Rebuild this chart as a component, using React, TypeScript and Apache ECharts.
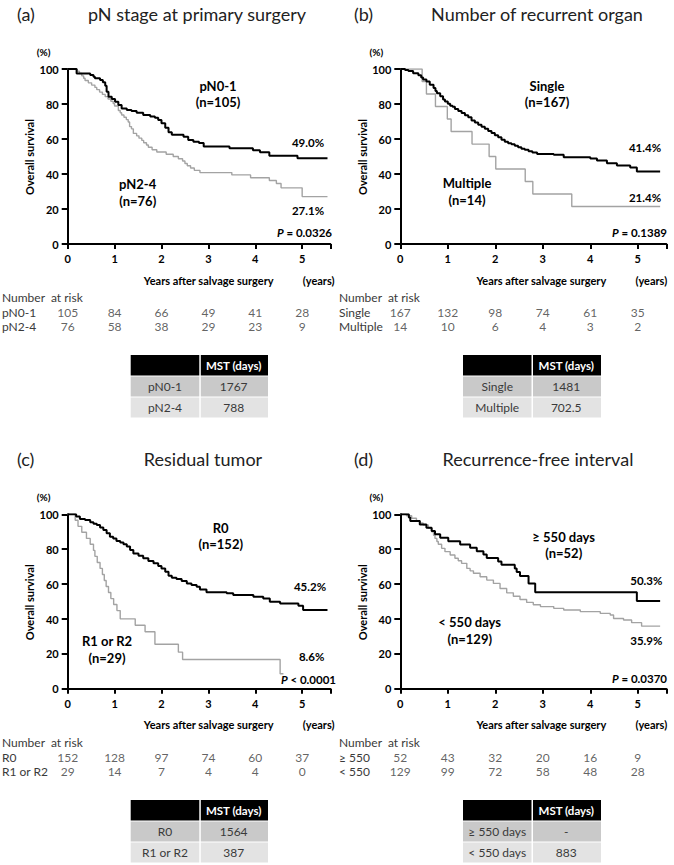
import React, { useEffect, useRef } from 'react';
import * as echarts from 'echarts';

// ---------- DATA ----------
const panelLetters = ['(a)', '(b)', '(c)', '(d)'];
const panelTitles = ['pN stage at primary surgery', 'Number of recurrent organ', 'Residual tumor', 'Recurrence-free interval'];

// (a) pN stage
const aGroups = ['pN0-1', 'pN2-4'];
const aN = ['(n=105)', '(n=76)'];
const aFiveYear = ['49.0%', '27.1%'];
const aP = ['=', '0.0326'];
const aCurve0 = [[0,100],[0.19,97.5],[0.48,96.6],[0.55,95.6],[0.58,94.7],[0.69,93.7],[0.75,92.4],[0.8,90.5],[0.83,87],[0.87,84.2],[0.94,82.9],[1.01,81.3],[1.08,79.4],[1.15,77.5],[1.26,76.6],[1.36,76],[1.47,75],[1.61,73.7],[1.76,72.8],[1.86,72.2],[1.93,70.9],[2.0,69],[2.08,66.5],[2.15,63.8],[2.22,62.5],[2.47,61.3],[2.57,59.4],[2.68,58.5],[2.8,57.7],[2.9,55.7],[3.45,54.7],[3.95,53.6],[4.1,52.5],[4.3,50.4],[4.9,49.0],[5.54,49.0]];
const aCurve1 = [[0,100],[0.2,98.7],[0.25,97.4],[0.3,96.1],[0.34,94.7],[0.37,93.4],[0.44,92.1],[0.51,90.8],[0.58,89.5],[0.62,88.2],[0.68,86.8],[0.74,85.5],[0.8,84.2],[0.86,82.9],[0.92,81.6],[0.97,80.3],[1.0,78.9],[1.08,76.3],[1.12,75.0],[1.15,73.7],[1.2,72.4],[1.25,71.1],[1.29,69.7],[1.32,67.1],[1.36,65.8],[1.4,63.2],[1.47,61.8],[1.52,60.5],[1.58,59.2],[1.62,57.9],[1.68,56.6],[1.72,55.3],[1.8,53.9],[1.9,52.6],[2.1,51.3],[2.25,50.0],[2.36,48.7],[2.45,47.4],[2.5,46.0],[2.55,44.7],[2.62,43.4],[2.7,42.1],[2.82,40.8],[3.5,39.5],[3.9,37.9],[4.3,36.3],[4.45,34.6],[4.55,32.1],[5.0,27.1],[5.54,27.1]];
const aRisk0 = [105, 84, 66, 49, 41, 28];
const aRisk1 = [76, 58, 38, 29, 23, 9];
const aMst = ['1767', '788'];

// (b) number of recurrent organ
const bGroups = ['Single', 'Multiple'];
const bN = ['(n=167)', '(n=14)'];
const bFiveYear = ['41.4%', '21.4%'];
const bP = ['=', '0.1389'];
const bCurve0 = [[0,100],[0.1,99.4],[0.17,98.8],[0.27,97.6],[0.38,96.4],[0.44,95.2],[0.48,94],[0.55,92.8],[0.62,91],[0.7,89.2],[0.74,87.4],[0.77,86.2],[0.84,84.4],[0.9,82.6],[0.94,81.4],[1.0,80.2],[1.05,79.0],[1.1,78.4],[1.15,77.2],[1.22,76],[1.29,74.8],[1.36,73.6],[1.43,72.4],[1.5,70.6],[1.57,69.4],[1.64,68.2],[1.71,67.0],[1.78,65.8],[1.85,64.6],[1.92,63.4],[1.99,62.2],[2.06,61],[2.13,59.6],[2.2,58.4],[2.27,57.6],[2.34,57],[2.41,56.2],[2.48,55.3],[2.55,54.4],[2.62,53.8],[2.7,53],[2.78,52.3],[2.88,51.5],[3.23,51],[3.44,49.6],[4.0,48.9],[4.14,47.7],[4.35,46.2],[4.56,44.9],[4.84,43.7],[4.98,41.4],[5.47,41.4]];
const bCurve1 = [[0,100],[0.46,92.9],[0.55,85.7],[0.74,78.6],[0.99,71.4],[1.07,64.3],[1.51,57.1],[1.87,50],[2.01,42.9],[2.63,35.7],[2.79,28.6],[3.61,21.4],[5.47,21.4]];
const bRisk0 = [167, 132, 98, 74, 61, 35];
const bRisk1 = [14, 10, 6, 4, 3, 2];
const bMst = ['1481', '702.5'];

// (c) residual tumor
const cGroups = ['R0', 'R1 or R2'];
const cN = ['(n=152)', '(n=29)'];
const cFiveYear = ['45.2%', '8.6%'];
const cP = ['<', '0.0001'];
const cCurve0 = [[0,100],[0.18,98.7],[0.26,97.3],[0.37,96.7],[0.48,95.4],[0.55,94.6],[0.62,93.9],[0.69,92.4],[0.76,91],[0.83,89.1],[0.9,87.2],[0.97,86.2],[1.04,84.7],[1.12,83.9],[1.19,82.8],[1.26,81.5],[1.33,79.5],[1.4,77.6],[1.51,76.3],[1.61,74.8],[1.72,73.2],[1.83,71.9],[1.93,70.4],[2.0,69],[2.08,67.1],[2.15,64.8],[2.22,63.7],[2.32,62.9],[2.43,61.8],[2.54,60.4],[2.64,59.5],[2.75,58.5],[2.82,56.9],[2.96,55.3],[3.39,54.7],[3.53,53.7],[3.96,52.8],[4.17,51.8],[4.31,49.9],[4.53,48.9],[4.92,47.6],[5.02,45.2],[5.54,45.2]];
const cCurve1 = [[0,100],[0.16,96.6],[0.22,93.1],[0.3,89.7],[0.4,86.2],[0.48,82.8],[0.55,79.3],[0.58,75.9],[0.63,72.4],[0.69,69.0],[0.74,65.5],[0.78,62.1],[0.82,58.6],[0.87,55.2],[0.92,51.7],[0.98,48.3],[1.05,44.8],[1.12,40.1],[1.44,36.4],[1.65,32.7],[1.86,25.5],[2.36,21],[2.45,16.8],[4.53,8.6],[4.6,8.6]];
const cRisk0 = [152, 128, 97, 74, 60, 37];
const cRisk1 = [29, 14, 7, 4, 4, 0];
const cMst = ['1564', '387'];

// (d) recurrence-free interval
const dGroups = ['≥ 550 days', '< 550 days'];
const dRiskLabels = ['≥ 550', '< 550'];
const dN = ['(n=52)', '(n=129)'];
const dFiveYear = ['50.3%', '35.9%'];
const dP = ['=', '0.0370'];
const dCurve0 = [[0,100],[0.18,98.1],[0.21,96.2],[0.41,94.2],[0.55,92.3],[0.66,90.4],[0.73,88.5],[0.84,86.5],[1.01,84.6],[1.26,82.7],[1.47,80.8],[1.61,78.8],[1.75,76.9],[1.82,74.9],[2.06,73.0],[2.13,71.1],[2.41,69.0],[2.45,66.9],[2.52,64.6],[2.7,60.4],[2.84,55.3],[4.98,50.3],[5.47,50.3]];
const dCurve1 = [[0,100],[0.13,99.2],[0.24,97.7],[0.34,96.2],[0.42,95],[0.48,93.9],[0.59,92],[0.66,90],[0.7,88],[0.73,86.2],[0.77,84.4],[0.8,82.8],[0.87,80.5],[0.94,78.6],[1.05,76.7],[1.15,74.8],[1.22,73.4],[1.29,71.9],[1.4,69],[1.47,67.6],[1.54,66.2],[1.68,64.2],[1.82,62.3],[1.96,60.4],[2.1,57.5],[2.24,55],[2.38,53],[2.52,51.2],[2.66,49.5],[2.8,48.2],[2.95,47.1],[3.23,46.1],[3.44,45.2],[3.79,44.2],[4.21,43.2],[4.42,42.3],[4.49,40.3],[4.7,39.4],[4.87,37.9],[5.08,35.9],[5.47,35.9]];
const dRisk0 = [52, 43, 32, 20, 16, 9];
const dRisk1 = [129, 99, 72, 58, 48, 28];
const dMst = ['-', '883'];

const yTicksMax = 100;
const xMax = 5.6;

const PANELS = [
  { groups: aGroups, riskLabels: aGroups, n: aN, five: aFiveYear, p: aP, curves: [aCurve0, aCurve1], risk: [aRisk0, aRisk1], mst: aMst },
  { groups: bGroups, riskLabels: bGroups, n: bN, five: bFiveYear, p: bP, curves: [bCurve0, bCurve1], risk: [bRisk0, bRisk1], mst: bMst },
  { groups: cGroups, riskLabels: cGroups, n: cN, five: cFiveYear, p: cP, curves: [cCurve0, cCurve1], risk: [cRisk0, cRisk1], mst: cMst },
  { groups: dGroups, riskLabels: dRiskLabels, n: dN, five: dFiveYear, p: dP, curves: [dCurve0, dCurve1], risk: [dRisk0, dRisk1], mst: dMst },
];

// ---------- LAYOUT ----------
const LAYOUT = [
  { ox: 0, oy: 0, gx: 67.7, gw: 262.6, gy: 69, gh: 175, titleX: 197, tx: 130.7, tdiv: 199.3, tr: 268,
    g0: [218, 86], g1: [137.7, 184], e0: [308, 142.7], e1: [308, 210.7], pp: [332, 232.7] },
  { ox: 337, oy: 0, gx: 400.3, gw: 266, gy: 69, gh: 175, titleX: 537, tx: 463, tdiv: 531.5, tr: 601,
    g0: [547, 86], g1: [467, 183], e0: [645, 147], e1: [645, 197], pp: [667, 232.5] },
  { ox: 0, oy: 445, gx: 67.7, gw: 262.6, gy: 514.3, gh: 174.5, titleX: 203, tx: 130.7, tdiv: 199.3, tr: 268,
    g0: [220.7, 527.7], g1: [107, 640.7], e0: [310, 586.7], e1: [311.7, 656.7], pp: [336, 679] },
  { ox: 337, oy: 445, gx: 400.3, gw: 266, gy: 514.3, gh: 174.5, titleX: 538, tx: 463, tdiv: 531.5, tr: 601,
    g0: [563.7, 536.7], g1: [469.7, 621.7], e0: [646.3, 580.7], e1: [646.3, 640.7], pp: [667, 678.3] },
];

const FONT = 'Lato, "Noto Sans", sans-serif';
const TXT = '#3a3a3a';
const BLACK = '#000000';
const GRAY = '#a3a3a3';

function buildOption() {
  const grid: any[] = [];
  const xAxis: any[] = [];
  const yAxis: any[] = [];
  const series: any[] = [];
  const graphic: any[] = [];

  const text = (x: number, y: number, t: string, o: any = {}) => ({
    type: 'text', x, y, silent: true,
    style: { text: t, fill: o.fill || '#000', fontFamily: FONT, fontSize: o.size || 12,
      fontWeight: o.weight || 'normal', align: o.align || 'center', verticalAlign: 'middle', ...(o.rich ? { rich: o.rich } : {}) },
    ...(o.rotation ? { rotation: o.rotation } : {}),
  });

  PANELS.forEach((p, i) => {
    const L = LAYOUT[i];
    const gi = i * 2;
    grid.push({ left: L.gx, top: L.gy, width: L.gw, height: L.gh, containLabel: false });
    xAxis.push({
      type: 'value', gridIndex: gi, min: 0, max: xMax, interval: 1,
      axisLine: { show: true, lineStyle: { color: BLACK, width: 2 } },
      axisTick: { show: true, length: 5, lineStyle: { color: BLACK, width: 2 } },
      axisLabel: { color: BLACK, fontWeight: 'bold', fontSize: 11, fontFamily: FONT, margin: 9,
        formatter: (v: number) => (Number.isInteger(v) ? String(v) : '') },
      splitLine: { show: false },
    });
    yAxis.push({
      type: 'value', gridIndex: gi, min: 0, max: yTicksMax, interval: 20,
      axisLine: { show: true, lineStyle: { color: BLACK, width: 2 } },
      axisTick: { show: true, length: 6, lineStyle: { color: BLACK, width: 2 } },
      axisLabel: { color: BLACK, fontWeight: 'bold', fontSize: 11, fontFamily: FONT, margin: 9 },
      splitLine: { show: false },
    });
    grid.push({ left: L.gx, top: 305 + L.oy, width: L.gw, height: 28 });
    xAxis.push({ type: 'value', gridIndex: gi + 1, min: 0, max: xMax, show: false });
    yAxis.push({ type: 'category', gridIndex: gi + 1, data: p.riskLabels, inverse: true, show: false });

    series.push({
      type: 'line', xAxisIndex: gi, yAxisIndex: gi, data: p.curves[1], step: 'end', showSymbol: false,
      symbol: 'none', lineStyle: { color: GRAY, width: 1.4 }, z: 2, silent: true,
    });
    series.push({
      type: 'line', xAxisIndex: gi, yAxisIndex: gi, data: p.curves[0], step: 'end', showSymbol: false,
      symbol: 'none', lineStyle: { color: BLACK, width: 2 }, z: 3, silent: true,
    });
    p.risk.forEach((row, r) => {
      series.push({
        type: 'scatter', xAxisIndex: gi + 1, yAxisIndex: gi + 1, symbolSize: 0, silent: true,
        data: row.map((v, k) => [k, p.riskLabels[r], v]),
        label: { show: true, position: 'inside', formatter: (d: any) => String(d.value[2]),
          color: TXT, fontSize: 12, fontFamily: FONT },
      });
      graphic.push(text(L.ox + 2, 305 + L.oy + 7 + r * 14, p.riskLabels[r], { align: 'left', fill: TXT, size: 12 }));
    });
    graphic.push(text(L.ox + 2, 298 + L.oy - 1, 'Number  at risk', { align: 'left', fill: TXT, size: 12 }));

    graphic.push(text(L.ox + 17, 14 + L.oy, panelLetters[i], { align: 'left', size: 18, fill: '#222' }));
    graphic.push(text(L.titleX, 14 + L.oy, panelTitles[i], { size: 18, fill: '#222' }));

    graphic.push(text(L.gx - 24, L.gy - 17.5, '(%)', { size: 10, weight: 'bold' }));
    graphic.push(text(L.gx - 38, L.gy + 88, 'Overall survival', { size: 11, weight: 'bold', rotation: Math.PI / 2 }));
    graphic.push(text(L.gx + 141, L.gy + L.gh + 36, 'Years after salvage surgery', { size: 11, weight: 'bold' }));
    graphic.push(text(L.gx + 251, L.gy + L.gh + 36, '(years)', { size: 11, weight: 'bold' }));

    graphic.push(text(L.g0[0], L.g0[1], p.groups[0], { size: 13, weight: 'bold' }));
    graphic.push(text(L.g0[0], L.g0[1] + 16, p.n[0], { size: 13, weight: 'bold' }));
    graphic.push(text(L.g1[0], L.g1[1], p.groups[1], { size: 13, weight: 'bold' }));
    graphic.push(text(L.g1[0], L.g1[1] + 17, p.n[1], { size: 13, weight: 'bold' }));
    graphic.push(text(L.e0[0], L.e0[1], p.five[0], { size: 11.5, weight: 'bold' }));
    graphic.push(text(L.e1[0], L.e1[1], p.five[1], { size: 11.5, weight: 'bold' }));
    graphic.push(text(L.pp[0], L.pp[1], `{i|P} {b|${p.p[0]} ${p.p[1]}}`, {
      align: 'right', size: 11.5, weight: 'bold',
      rich: { i: { fontStyle: 'italic', fontWeight: 'bold', fontSize: 11.5, fontFamily: FONT },
              b: { fontWeight: 'bold', fontSize: 11.5, fontFamily: FONT } },
    }));

    const ty = 355 + L.oy;
    const rowH = [20.5, 20, 20];
    const fills = ['#000000', '#c9c9c9', '#e3e3e3'];
    let y = ty;
    rowH.forEach((h, r) => {
      graphic.push({ type: 'rect', silent: true, shape: { x: L.tx, y, width: L.tdiv - L.tx, height: h }, style: { fill: fills[r] } });
      graphic.push({ type: 'rect', silent: true, shape: { x: L.tdiv + 1.5, y, width: L.tr - L.tdiv - 1.5, height: h }, style: { fill: fills[r] } });
      const cy = y + h / 2;
      if (r === 0) {
        graphic.push(text((L.tdiv + L.tr) / 2, cy, 'MST (days)', { size: 11.5, weight: 'bold', fill: '#ffffff' }));
      } else {
        graphic.push(text((L.tx + L.tdiv) / 2, cy, p.groups[r - 1], { size: 12, fill: TXT }));
        graphic.push(text((L.tdiv + L.tr) / 2, cy, p.mst[r - 1], { size: 12, fill: TXT }));
      }
      y += h + 1;
    });
  });

  return {
    animation: false,
    backgroundColor: '#ffffff',
    grid, xAxis, yAxis, series, graphic,
  };
}

export default function App() {
  const ref = useRef<HTMLDivElement>(null);
  useEffect(() => {
    document.body.style.margin = '0';
    if (!ref.current) return;
    const chart = echarts.init(ref.current, null, { renderer: 'svg' });
    chart.setOption(buildOption() as any);
    return () => chart.dispose();
  }, []);
  return <div ref={ref} style={{ position: 'absolute', left: 0, top: 0, width: 674, height: 865, background: '#fff' }} />;
}
